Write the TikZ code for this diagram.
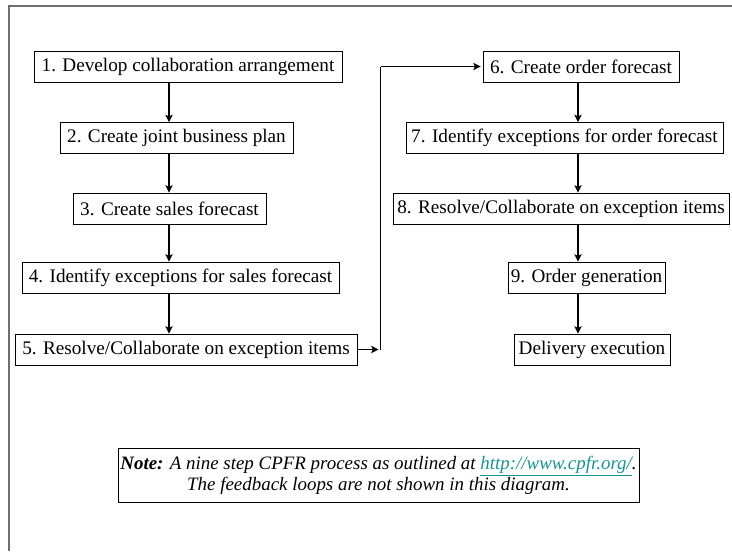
\documentclass[tikz,border=0pt]{standalone}
\usepackage{fontspec}
\setmainfont{Liberation Serif}
\usetikzlibrary{arrows.meta}
\definecolor{linkteal}{RGB}{20,150,150}
\definecolor{framegray}{RGB}{110,110,110}
\begin{document}
\begin{tikzpicture}[x=0.75pt,y=-0.75pt,
  stepbox/.style={draw=black, line width=0.6pt, inner sep=0pt,
    minimum height=23.25pt, font=\fontsize{14.4}{16}\selectfont},
  notebox/.style={draw=black, line width=0.6pt, inner sep=0pt, align=center,
    minimum width=390.75pt, minimum height=40.5pt,
    font=\fontsize{14.2}{15.75}\selectfont\itshape},
  flow/.style={-{Stealth[length=5.5pt,width=5.5pt,inset=1.2pt]}, line width=1.4pt},
  busline/.style={line width=1pt}]
  \useasboundingbox (0,0) rectangle (732,551);
  % page frame (left and top edges)
  \draw[framegray, line width=1.2pt] (9,551) -- (9,6) -- (732,6);

  % left column
  \node[stepbox, minimum width=231pt]    (s1) at (188,66.5)   {1. Develop collaboration arrangement};
  \node[stepbox, minimum width=174.75pt] (s2) at (176.5,138)  {2. Create joint business plan};
  \node[stepbox, minimum width=144.75pt] (s3) at (169.5,208.5){3. Create sales forecast};
  \node[stepbox, minimum width=237.75pt] (s4) at (180.5,277.5){4. Identify exceptions for sales forecast};
  \node[stepbox, minimum width=256.5pt]  (s5) at (186,349.5)  {5. Resolve/Collaborate on exception items};

  % right column
  \node[stepbox, minimum width=147pt]    (s6) at (581,66.5)   {6. Create order forecast};
  \node[stepbox, minimum width=237.75pt] (s7) at (564.5,138)  {7. Identify exceptions for order forecast};
  \node[stepbox, minimum width=252pt]    (s8) at (561,208.5)  {8. Resolve/Collaborate on exception items};
  \node[stepbox, minimum width=117.75pt] (s9) at (586.5,277.5){9. Order generation};
  \node[stepbox, minimum width=117pt]    (de) at (592,349.5)  {Delivery execution};

  % note
  \node[notebox] (note) at (378.5,475)
    {\textbf{Note:} A nine step CPFR process as outlined at
     \textcolor{linkteal}{\underline{http://www.cpfr.org/}}.\\
     The feedback loops are not shown in this diagram.};

  % guide coordinates for the vertical arrow columns and the return bus
  \coordinate (colL) at (169,0);
  \coordinate (colR) at (578,0);
  \coordinate (bus)  at (380.5,0);

  \foreach \a/\b in {s1/s2, s2/s3, s3/s4, s4/s5}
    \draw[flow] (\a.south -| colL) -- (\b.north -| colL);
  \foreach \a/\b in {s6/s7, s7/s8, s8/s9, s9/de}
    \draw[flow] (\a.south -| colR) -- (\b.north -| colR);

  % hand-over from step 5 to step 6
  \draw[flow] (s5.east) -- ([xshift=-1.5pt]s5.east -| bus);
  \draw[busline] (s5.east -| bus) -- (s6.west -| bus);
  \draw[flow, shorten >=1.5pt] (s6.west -| bus) -- (s6.west);
\end{tikzpicture}
\end{document}
